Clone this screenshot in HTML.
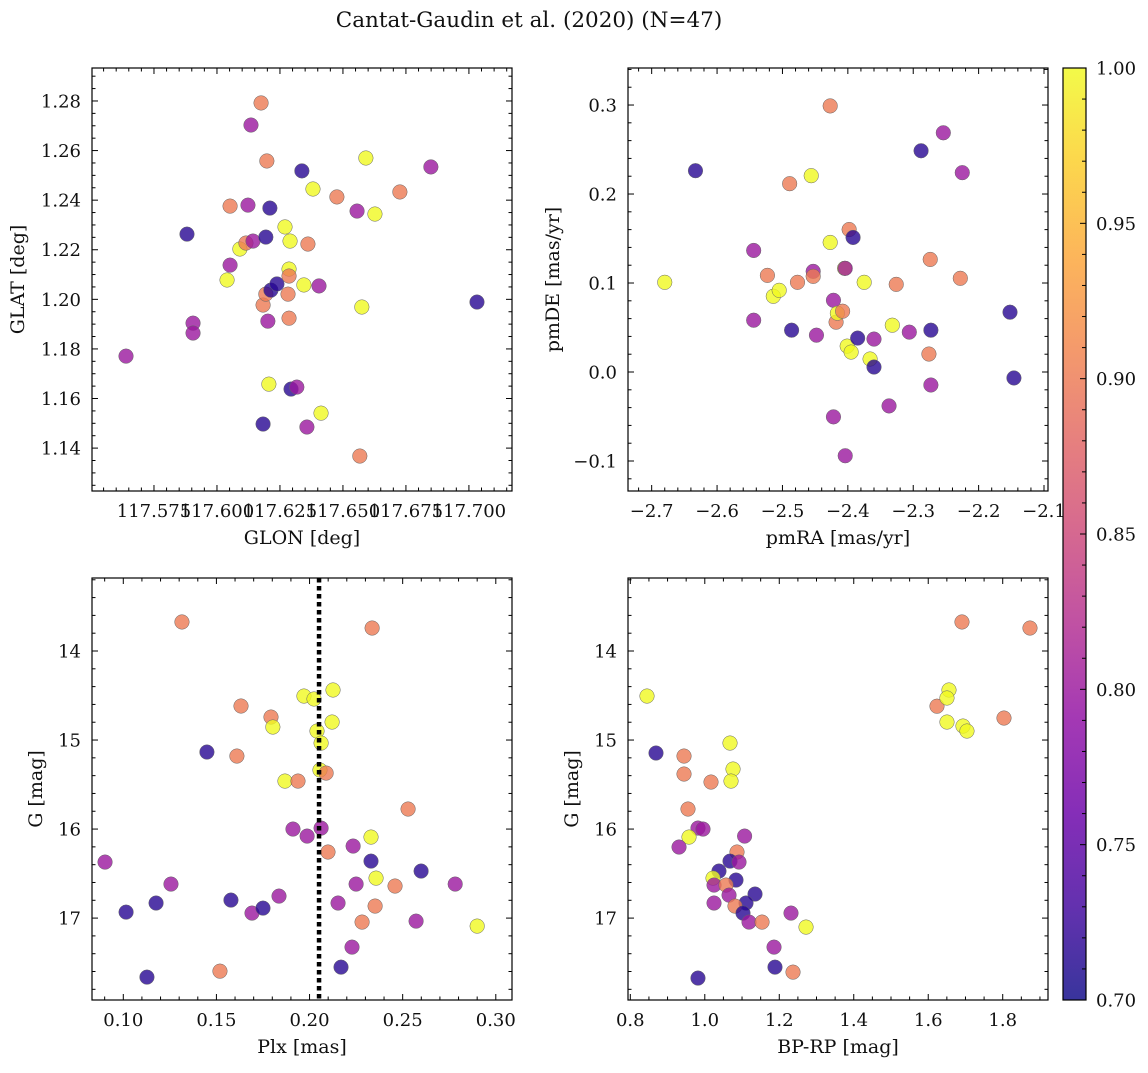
<!DOCTYPE html>
<html><head><meta charset="utf-8"><style>
body{margin:0;background:#fff}
svg text{font-family:"DejaVu Serif","Liberation Serif",serif;fill:#111}
</style></head><body>
<svg id="fig" width="1148" height="1068" viewBox="0 0 1148 1068" xmlns="http://www.w3.org/2000/svg">
<rect width="1148" height="1068" fill="#fff"/>
<text x="529" y="27" font-size="21.5" text-anchor="middle">Cantat-Gaudin et al. (2020) (N=47)</text>
<defs><linearGradient id="plasma" x1="0" y1="1" x2="0" y2="0"></linearGradient></defs>
</svg>
<script>
// ---------- data ----------
const B=0.715,P=0.80,S=0.90,Y=1.0;
const glon=[117.5639,117.5881,117.5905,117.5905,117.6052,117.6040,117.6052,117.6091,117.6115,117.6143,117.6123,117.6135,117.6175,117.6198,117.6194,117.6210,117.6183,117.6194,117.6202,117.6214,117.6238,117.6206,117.6183,117.6270,117.6290,117.6286,117.6286,117.6282,117.6286,117.6294,117.6317,117.6337,117.6345,117.6357,117.6361,117.6381,117.6405,117.6413,117.6476,117.6556,117.6567,117.6575,117.6591,117.6627,117.6726,117.6849,117.7032];
const glat=[1.1771,1.2263,1.1904,1.1864,1.2376,1.2078,1.2138,1.2203,1.2227,1.2235,1.2380,1.2703,1.2792,1.2558,1.2251,1.2368,1.1977,1.2021,1.1912,1.2037,1.2062,1.1658,1.1497,1.2292,1.2235,1.2122,1.2094,1.2021,1.1924,1.1638,1.1646,1.2518,1.2058,1.1485,1.2223,1.2445,1.2054,1.1541,1.2413,1.2356,1.1368,1.1969,1.2570,1.2344,1.2433,1.2534,1.1989];
const c1=[P,B,P,P,S,Y,P,Y,S,P,P,P,S,S,B,B,S,S,P,B,B,Y,B,Y,Y,Y,S,S,S,B,P,B,Y,P,S,Y,P,Y,S,P,S,Y,Y,Y,S,P,B];

const pmra=[-2.680,-2.633,-2.544,-2.544,-2.523,-2.514,-2.505,-2.486,-2.489,-2.477,-2.456,-2.453,-2.453,-2.448,-2.427,-2.427,-2.422,-2.422,-2.418,-2.416,-2.408,-2.405,-2.404,-2.404,-2.398,-2.392,-2.401,-2.395,-2.385,-2.375,-2.366,-2.360,-2.360,-2.337,-2.332,-2.326,-2.306,-2.288,-2.276,-2.274,-2.273,-2.273,-2.254,-2.228,-2.225,-2.152,-2.146];
const pmde=[0.1008,0.2262,0.1366,0.0582,0.1086,0.0851,0.0918,0.0470,0.2116,0.1008,0.2206,0.1131,0.1075,0.0414,0.2990,0.1456,0.0806,-0.0504,0.0560,0.0661,0.0683,0.1165,0.1165,-0.0941,0.1601,0.1512,0.0291,0.0224,0.0381,0.1008,0.0146,0.0370,0.0056,-0.0381,0.0526,0.0985,0.0448,0.2486,0.0202,0.1265,0.0470,-0.0146,0.2688,0.1053,0.2240,0.0672,-0.0067];
const c2=[Y,B,P,P,S,Y,Y,B,S,S,Y,P,S,P,S,Y,P,P,S,Y,S,Y,P,P,S,B,Y,Y,B,Y,Y,P,B,P,Y,S,P,B,S,S,B,P,P,S,P,B,B];

const plx=[0.0902,0.1015,0.1176,0.1127,0.1315,0.1256,0.1449,0.1519,0.1578,0.1632,0.1610,0.1691,0.1750,0.1793,0.1803,0.1836,0.1868,0.1938,0.1911,0.1970,0.1987,0.2024,0.2040,0.2062,0.2056,0.2062,0.2089,0.2099,0.2126,0.2121,0.2153,0.2169,0.2228,0.2234,0.2250,0.2282,0.2336,0.2330,0.2330,0.2357,0.2352,0.2459,0.2529,0.2572,0.2599,0.2782,0.2900];
const gmag3=[16.371,16.933,16.831,17.663,13.674,16.618,15.135,17.596,16.798,14.618,15.180,16.944,16.888,14.742,14.854,16.753,15.461,15.461,16.0,14.506,16.079,14.539,14.899,15.034,15.337,15.989,15.371,16.258,14.438,14.798,16.831,17.551,17.326,16.191,16.618,17.045,13.742,16.090,16.360,16.551,16.865,16.640,15.775,17.034,16.472,16.618,17.090];
const c3=[P,B,B,B,S,P,B,S,B,S,S,P,B,S,Y,P,Y,S,P,Y,P,Y,Y,Y,Y,P,S,S,Y,Y,P,B,P,P,P,S,S,Y,B,Y,S,S,S,P,B,P,Y];
const plxLine=[0.2051];

const bprp=[0.8448,0.8690,0.9442,0.9442,1.0167,1.0677,1.0758,1.0704,0.9549,0.9817,0.9952,0.9576,0.9308,1.1069,1.0865,1.0677,1.0919,1.0381,1.0838,1.0221,1.0248,1.0570,1.0651,1.1349,1.1107,1.0248,1.0811,1.1026,1.1188,1.1537,1.2315,1.2718,1.1859,1.1885,1.2369,0.9817,1.6235,1.6557,1.6503,1.6503,1.6933,1.7040,1.6906,1.8034,1.8732];
const gmag4=[14.506,15.146,15.180,15.382,15.472,15.034,15.326,15.461,15.775,15.989,16.0,16.090,16.202,16.079,16.258,16.360,16.371,16.472,16.573,16.551,16.629,16.629,16.742,16.730,16.831,16.831,16.865,16.944,17.045,17.045,16.944,17.101,17.326,17.551,17.607,17.674,14.62,14.438,14.528,14.798,14.843,14.899,13.674,14.753,13.742];
const c4=[Y,B,S,S,S,Y,Y,Y,S,P,P,Y,P,P,S,B,P,B,B,Y,P,S,P,B,B,P,S,B,P,S,P,Y,P,B,S,B,S,Y,Y,Y,Y,Y,S,S,S];

const xt1=[117.575,117.600,117.625,117.650,117.675,117.700];
const yt1=[1.14,1.16,1.18,1.20,1.22,1.24,1.26,1.28];
const xt2=[-2.7,-2.6,-2.5,-2.4,-2.3,-2.2,-2.1];
const yt2=[-0.1,0.0,0.1,0.2,0.3];
const xt3=[0.10,0.15,0.20,0.25,0.30];
const yt3=[14,15,16,17];
const xt4=[0.8,1.0,1.2,1.4,1.6,1.8];
const yt4=[14,15,16,17];
const cbt=[0.70,0.75,0.80,0.85,0.90,0.95,1.00];

// ---------- helpers ----------
const NS='http://www.w3.org/2000/svg';
const svg=document.getElementById('fig');
function mk(tag,attrs,parent){const e=document.createElementNS(NS,tag);for(const k in attrs)e.setAttribute(k,attrs[k]);(parent||svg).appendChild(e);return e;}
const stops=['#0d0887','#41049d','#6a00a8','#8f0da4','#b12a90','#cc4778','#e16462','#f2844b','#fca636','#fcce25','#f0f921'];
function hex(h){return [1,3,5].map(i=>parseInt(h.substr(i,2),16));}
function plasma(t){t=Math.max(0,Math.min(1,t));const f=t*10,i=Math.min(9,Math.floor(f)),r=f-i;const a=hex(stops[i]),b=hex(stops[i+1]);return 'rgb('+a.map((v,k)=>Math.round(v+(b[k]-v)*r)).join(',')+')';}
const cmin=0.70,cmax=1.00;
const fmtMinus=s=>s.replace('-','\u2212');

function panel(o){
  const g=mk('g',{});
  
  
  const sx=v=>o.x0+(v-o.xd[0])/(o.xd[1]-o.xd[0])*(o.x1-o.x0);
  const sy=v=>o.inv? o.y0+(v-o.yd[0])/(o.yd[1]-o.yd[0])*(o.y1-o.y0) : o.y1-(v-o.yd[0])/(o.yd[1]-o.yd[0])*(o.y1-o.y0);
  for(let i=0;i<o.xs.length;i++){
    const c=mk('circle',{cx:sx(o.xs[i]),cy:sy(o.ys[i]),r:7.3,fill:plasma((o.cs[i]-cmin)/(cmax-cmin)),'fill-opacity':0.8,stroke:'#666','stroke-width':0.5},g);
    
    
  }
  if(o.vline){for(const v of o.vline){const l=mk('line',{x1:sx(v),x2:sx(v),y1:o.y0,y2:o.y1,stroke:'#000','stroke-width':4.5,'stroke-dasharray':'4.5,3.5'},g);
    
    }}
  const fr=mk('rect',{x:o.x0,y:o.y0,width:o.x1-o.x0,height:o.y1-o.y0,fill:'none',stroke:'#000','stroke-width':1.2},g);
  
  
  const xs=o.xt[1]-o.xt[0], xm=xs/o.xmn;
  for(let v=o.xt[0]-xs*2;v<=o.xd[1]+1e-9;v+=xm){
    if(v<o.xd[0]-1e-9)continue;const X=sx(v);
    const isM=o.xt.some(t=>Math.abs(t-v)<xm/10);const L=isM?6:3.5;
    mk('line',{x1:X,x2:X,y1:o.y1,y2:o.y1-L,stroke:'#000','stroke-width':1},g);
    mk('line',{x1:X,x2:X,y1:o.y0,y2:o.y0+L,stroke:'#000','stroke-width':1},g);
  }
  const ys=o.yt[1]-o.yt[0], ym=ys/o.ymn;
  const ylo=Math.min(o.yd[0],o.yd[1]),yhi=Math.max(o.yd[0],o.yd[1]);
  for(let v=o.yt[0]-ys*2;v<=yhi+1e-9;v+=ym){
    if(v<ylo-1e-9)continue;const Yp=sy(v);
    const isM=o.yt.some(t=>Math.abs(t-v)<ym/10);const L=isM?6:3.5;
    mk('line',{x1:o.x0,x2:o.x0+L,y1:Yp,y2:Yp,stroke:'#000','stroke-width':1},g);
    mk('line',{x1:o.x1,x2:o.x1-L,y1:Yp,y2:Yp,stroke:'#000','stroke-width':1},g);
  }
  for(const t of o.xt){const e=mk('text',{x:sx(t),y:o.y1+26,'font-size':18,'text-anchor':'middle'},g);e.textContent=fmtMinus(t.toFixed(o.xf));
    
    }
  for(const t of o.yt){const e=mk('text',{x:o.x0-11,y:sy(t)+6.5,'font-size':18,'text-anchor':'end'},g);e.textContent=fmtMinus(t.toFixed(o.yf));
    
    }
  const xl=mk('text',{x:(o.x0+o.x1)/2,y:o.y1+53,'font-size':19,'text-anchor':'middle'},g);xl.textContent=o.xl;
  
  
  const yl=mk('text',{x:0,y:0,'font-size':19,'text-anchor':'middle',transform:`translate(${o.ylx},${(o.y0+o.y1)/2}) rotate(-90)`},g);yl.textContent=o.yl;
  
  
}

panel({name:'glon-glat-panel',x0:92,x1:512,y0:68,y1:491,xd:[117.5504,117.7171],yd:[1.1227,1.2933],xs:glon,ys:glat,cs:c1,xt:xt1,yt:yt1,xmn:5,ymn:4,xf:3,yf:2,xl:'GLON [deg]',yl:'GLAT [deg]',ylx:24});
panel({name:'proper-motion-panel',x0:628,x1:1048,y0:68,y1:491,xd:[-2.7362,-2.0939],yd:[-0.1337,0.3416],xs:pmra,ys:pmde,cs:c2,xt:xt2,yt:yt2,xmn:5,ymn:5,xf:1,yf:1,xl:'pmRA [mas/yr]',yl:'pmDE [mas/yr]',ylx:559});
panel({name:'parallax-magnitude-panel',x0:92,x1:512,y0:578,y1:1000,xd:[0.0832,0.3087],yd:[13.18,17.92],inv:true,xs:plx,ys:gmag3,cs:c3,xt:xt3,yt:yt3,xmn:5,ymn:5,xf:2,yf:0,xl:'Plx [mas]',yl:'G [mag]',ylx:42,vline:plxLine});
panel({name:'color-magnitude-panel',x0:628,x1:1048,y0:578,y1:1000,xd:[0.7938,1.9216],yd:[13.18,17.92],inv:true,xs:bprp,ys:gmag4,cs:c4,xt:xt4,yt:yt4,xmn:4,ymn:5,xf:1,yf:0,xl:'BP-RP [mag]',yl:'G [mag]',ylx:578});

// ---------- colorbar ----------
const grad=document.getElementById('plasma');
stops.forEach((s,i)=>mk('stop',{offset:(i/10),'stop-color':s,'stop-opacity':0.82},grad));
const cb=mk('g',{});


const cx0=1063,cx1=1086,cy0=68,cy1=1000;
mk('rect',{x:cx0,y:cy0,width:cx1-cx0,height:cy1-cy0,fill:'url(#plasma)',stroke:'#000','stroke-width':1.2},cb);
const cy=v=>cy1-(v-cmin)/(cmax-cmin)*(cy1-cy0);
for(let v=cmin;v<=cmax+1e-9;v+=0.01){const isM=cbt.some(t=>Math.abs(t-v)<0.001);const L=isM?6:4;
  mk('line',{x1:cx1,x2:cx1-L,y1:cy(v),y2:cy(v),stroke:'#000','stroke-width':1},cb);}
for(const t of cbt){const e=mk('text',{x:cx1+10,y:cy(t)+6.5,'font-size':18},cb);e.textContent=t.toFixed(2);
  
  }
</script>
</body></html>
